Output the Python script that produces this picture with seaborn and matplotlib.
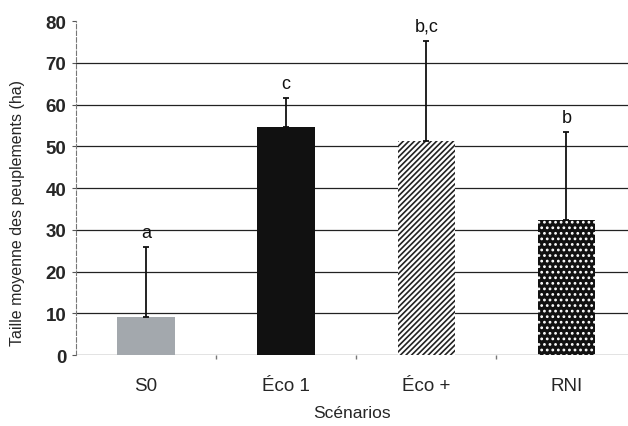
import matplotlib
matplotlib.use("Agg")
import matplotlib.pyplot as plt
import seaborn as sns
import numpy as np

categories = ["S0", "Éco 1", "Éco +", "RNI"]
means = [9.1, 54.6, 51.2, 32.3]
err_upper = [16.8, 6.9, 24.0, 21.1]
letters = ["a", "c", "b,c", "b"]
yticks = [0, 10, 20, 30, 40, 50, 60, 70, 80]

sns.set_theme(style="white")
plt.rcParams['font.family'] = ['Liberation Sans', 'DejaVu Sans']
plt.rcParams['hatch.linewidth'] = 1.2

fig = plt.figure(figsize=(6.28, 4.27), dpi=100)
ax = fig.add_axes([0.121, 0.166, 0.879, 0.782])

colors = ["#a3a8ad", "#111111", "#ffffff", "#111111"]
sns.barplot(x=categories, y=means, hue=categories, palette=colors, legend=False,
            width=0.41, errorbar=None, saturation=1, ax=ax, zorder=3)

patches = ax.patches
for p in patches:
    p.set_linewidth(0)
patches[2].set_hatch("//////")
patches[2].set_edgecolor("#222222")
patches[2].set_linewidth(0)
patches[3].set_hatch("...")
patches[3].set_edgecolor("#ffffff")

xs = np.arange(len(categories))
ax.errorbar(xs, means, yerr=[np.zeros(len(means)), err_upper], fmt="none",
            ecolor="#111111", elinewidth=1.3, capsize=2.5, capthick=1.3, zorder=4)
for x, m, e, t in zip(xs, means, err_upper, letters):
    ax.text(x, m + e + 1.5, t, ha="center", va="bottom", fontsize=13, color="#111111")

ax.set_ylim(0, 80)
ax.set_xlim(-0.5, 3.44)
ax.set_yticks(yticks)
ax.set_yticklabels([str(v) for v in yticks], fontsize=13.5, fontweight="bold")
ax.tick_params(axis="y", length=3, width=0.8, color="#555555", pad=4, left=True)
ax.tick_params(axis="x", length=0, labelsize=13.5, pad=16)
ax.set_xticks(xs)
ax.set_xticks([0.5, 1.5, 2.5], minor=True)
ax.tick_params(axis="x", which="minor", length=3, bottom=True, color="#777777")

for y in yticks[:-1]:
    ax.axhline(y, color="#222222", lw=0.9, zorder=1)

for s in ["top", "right", "bottom"]:
    ax.spines[s].set_visible(False)
ax.spines["left"].set_color("#777777")
ax.spines["left"].set_linewidth(0.8)
ax.spines["left"].set_linestyle((0, (4, 2)))

ax.set_ylabel("Taille moyenne des peuplements (ha)", fontsize=11.5)
ax.yaxis.set_label_coords(-0.092, 0.43)
ax.set_xlabel("Scénarios", fontsize=12.5, labelpad=8)
ax.grid(False)

fig.savefig("out.png", dpi=100, facecolor="white")
